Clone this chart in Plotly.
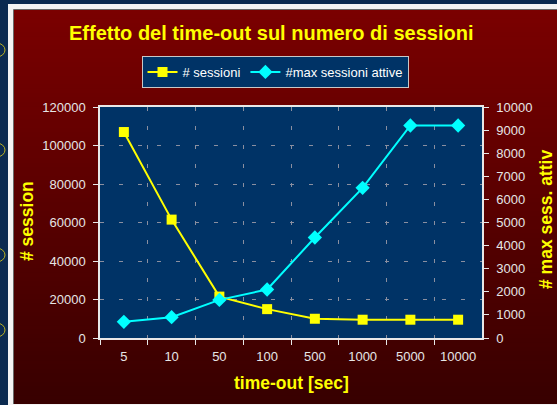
import plotly.graph_objects as go

# Data
timeouts = ["5", "10", "50", "100", "500", "1000", "5000", "10000"]
sessioni = [107000, 61500, 21500, 15000, 10000, 9500, 9500, 9500]
max_attive = [700, 900, 1650, 2100, 4350, 6500, 9200, 9200]

W, H = 557, 405
FONT = "Liberation Sans, Arial, sans-serif"
YELLOW = "#ffff00"
CYAN = "#00ffff"
PLOT_BG = "#003366"
GRID = "#8a8fa0"
TICK_TXT = "#e6e6e6"


def px(x):
    return x / W


def py(y):
    return 1 - y / H


fig = go.Figure()

fig.add_trace(go.Scatter(
    x=timeouts, y=sessioni, name="# sessioni", mode="lines+markers",
    line=dict(color=YELLOW, width=2),
    marker=dict(symbol="square", size=10, color=YELLOW),
    yaxis="y",
))
fig.add_trace(go.Scatter(
    x=timeouts, y=max_attive, name="#max sessioni attive", mode="lines+markers",
    line=dict(color=CYAN, width=2),
    marker=dict(symbol="diamond", size=11, color=CYAN),
    yaxis="y2",
))

shapes = []
# slide frame
shapes.append(dict(type="rect", xref="paper", yref="paper",
                   x0=px(8), x1=px(570), y0=py(4), y1=py(420),
                   fillcolor="#f4f4f4", line=dict(width=0), layer="below"))
# dark red gradient panel: each band runs to the panel bottom so later
# bands cover earlier ones without seams
top_c = (122, 0, 0)
bot_c = (56, 0, 0)
y_top, y_bot = 10, 404
n = 90
for i in range(n):
    t = i / (n - 1)
    c = tuple(round(top_c[k] + (bot_c[k] - top_c[k]) * t) for k in range(3))
    ya = y_top + (y_bot - y_top) * i / n
    shapes.append(dict(type="rect", xref="paper", yref="paper",
                       x0=px(14), x1=px(570), y0=py(ya), y1=py(y_bot),
                       fillcolor="rgb(%d,%d,%d)" % c, line=dict(width=0),
                       layer="below"))
# panel edge
shapes.append(dict(type="line", xref="paper", yref="paper",
                   x0=px(13.5), x1=px(13.5), y0=py(9.5), y1=py(404),
                   line=dict(color="#6a6a6a", width=1), layer="below"))
shapes.append(dict(type="line", xref="paper", yref="paper",
                   x0=px(13.5), x1=px(570), y0=py(9.5), y1=py(9.5),
                   line=dict(color="#6a6a6a", width=1), layer="below"))
# plot area fill
shapes.append(dict(type="rect", xref="paper", yref="paper",
                   x0=px(100), x1=px(482), y0=py(338), y1=py(107),
                   fillcolor=PLOT_BG, line=dict(width=0), layer="below"))
# small decorative arcs on the slide edge
for cy in (50, 150, 255, 330):
    shapes.append(dict(type="circle", xref="paper", yref="paper",
                       x0=px(-12), x1=px(5), y0=py(cy - 7), y1=py(cy + 7),
                       line=dict(color="#b8b020", width=1), layer="below"))

annotations = [
    dict(text="Effetto del time-out sul numero di sessioni", x=px(271), y=py(33),
         xref="paper", yref="paper", showarrow=False, xanchor="center", yanchor="middle",
         font=dict(family=FONT, size=20, color=YELLOW, weight="bold")),
    dict(text="# session", x=px(27), y=py(221), textangle=-90,
         xref="paper", yref="paper", showarrow=False, xanchor="center", yanchor="middle",
         font=dict(family=FONT, size=17.5, color=YELLOW, weight="bold")),
    dict(text="# max sess. attiv", x=px(546), y=py(220), textangle=-90,
         xref="paper", yref="paper", showarrow=False, xanchor="center", yanchor="middle",
         font=dict(family=FONT, size=17.5, color=YELLOW, weight="bold")),
    dict(text="time-out [sec]", x=px(291), y=py(383),
         xref="paper", yref="paper", showarrow=False, xanchor="center", yanchor="middle",
         font=dict(family=FONT, size=17.5, color=YELLOW, weight="bold")),
]

axis_line = dict(showline=True, linecolor="#e8e8e8", linewidth=1.5)

fig.update_layout(
    width=W, height=H,
    margin=dict(l=0, r=0, t=0, b=0, autoexpand=False),
    template="none",
    paper_bgcolor="#0b2a50",
    plot_bgcolor=PLOT_BG,
    font=dict(family=FONT, size=13, color=TICK_TXT),
    shapes=shapes,
    annotations=annotations,
    showlegend=True,
    legend=dict(
        orientation="h", x=px(275), y=py(72), xanchor="center", yanchor="middle",
        bgcolor=PLOT_BG, bordercolor="#c8c8c8", borderwidth=1,
        font=dict(family=FONT, size=13, color="#ffffff"),
        itemwidth=30, tracegroupgap=0,
    ),
    xaxis=dict(
        domain=[px(100), px(482)],
        type="category", range=[-0.5, 7.5],
        tickson="boundaries", ticks="outside", ticklen=5, tickcolor="#e8e8e8",
        showgrid=True, gridcolor=GRID, griddash="4px,15px", gridwidth=1,
        mirror=True, **axis_line,
        tickfont=dict(family=FONT, size=13, color=TICK_TXT),
        ticklabelstandoff=6, automargin=False, zeroline=False,
    ),
    yaxis=dict(
        domain=[py(338), py(107)],
        range=[0, 120000], tickmode="linear", tick0=0, dtick=20000,
        ticks="outside", ticklen=5, tickcolor="#e8e8e8",
        showgrid=True, gridcolor=GRID, griddash="4px,15px", gridwidth=1,
        mirror=True, **axis_line, zeroline=False,
        tickfont=dict(family=FONT, size=13, color=TICK_TXT),
        ticklabelstandoff=5, automargin=False, separatethousands=False,
        tickformat="d",
    ),
    yaxis2=dict(
        overlaying="y", side="right", anchor="x",
        range=[0, 10000], tickmode="linear", tick0=0, dtick=1000,
        ticks="outside", ticklen=5, tickcolor="#e8e8e8",
        showgrid=False, zeroline=False, **axis_line,
        tickfont=dict(family=FONT, size=13, color=TICK_TXT),
        ticklabelstandoff=5, automargin=False, tickformat="d",
    ),
)

fig.write_html("out.html")
